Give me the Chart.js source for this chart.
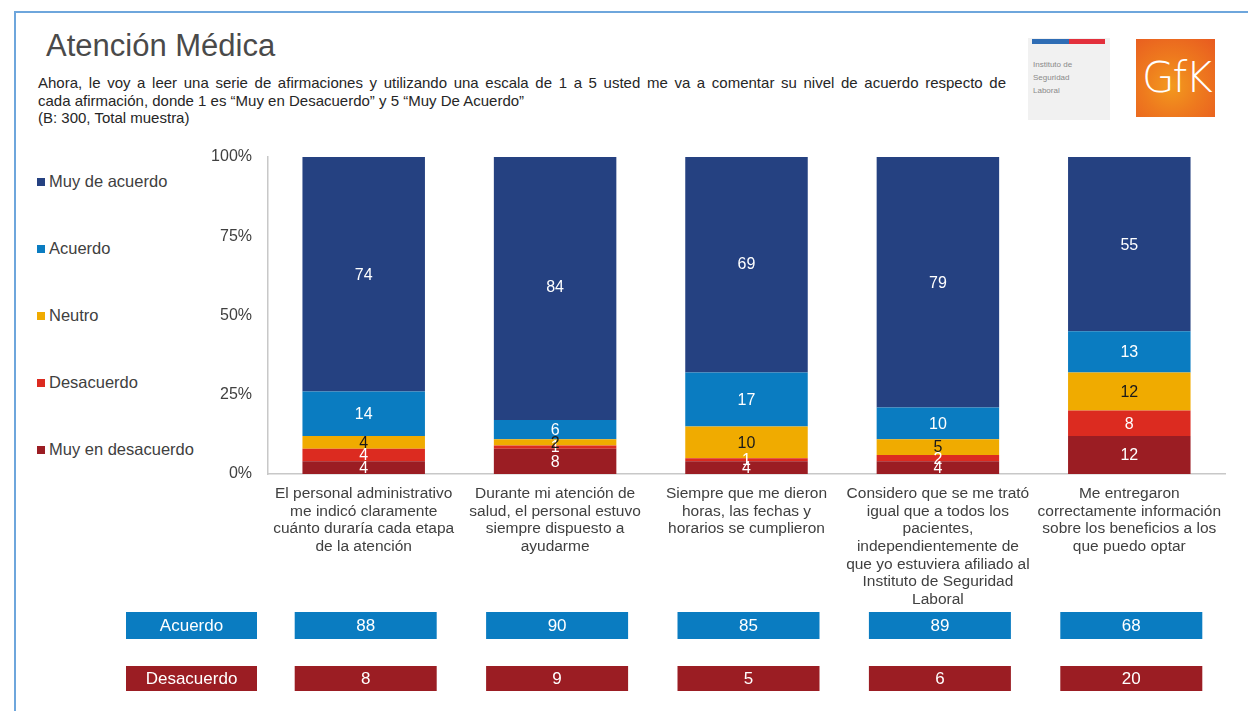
<!DOCTYPE html>
<html>
<head>
<meta charset="utf-8">
<script src="https://cdn.jsdelivr.net/npm/chart.js@4.4.1/dist/chart.umd.min.js"></script>
<style>
  html, body { margin: 0; padding: 0; background: #fff; }
  body { width: 1248px; height: 711px; position: relative; overflow: hidden; font-family: "Liberation Sans", Arial, sans-serif; }
  #frameTop { position: absolute; left: 14px; top: 11px; width: 1234px; height: 2px; background: #6ea6dc; }
  #frameLeft { position: absolute; left: 14px; top: 11px; width: 2px; height: 700px; background: #6ea6dc; }
  #title { position: absolute; left: 46px; top: 28px; font-size: 31px; color: #4a4a4a; }
  #sub { position: absolute; left: 38px; top: 74px; width: 968px; font-size: 15px; line-height: 17.5px; color: #262626; }
  #sub .j { text-align: justify; text-align-last: justify; white-space: nowrap; }
  #isl { position: absolute; left: 1028px; top: 38px; width: 82px; height: 82px; background: #f1f1f1; }
  #isl .b { position: absolute; left: 4px; top: 1px; width: 37px; height: 5px; background: #2f6db5; }
  #isl .r { position: absolute; left: 41px; top: 1px; width: 36px; height: 5px; background: #e3303c; }
  #isl .t { position: absolute; left: 5px; top: 20px; font-size: 8px; line-height: 13px; color: #8a8a8a; }
  #gfk { position: absolute; left: 1136px; top: 39px; width: 79px; height: 78px;
         background: radial-gradient(circle at 45% 60%, #f39a1e 0%, #ee7a1e 45%, #e85a20 100%); }
  #gfk span { position: absolute; left: 6px; top: 14px; font-size: 42px; color: #fff; font-family: "DejaVu Sans", sans-serif; font-weight: 300; letter-spacing: -2px; }
  #legend { position: absolute; left: 37px; top: 0; }
  .li { position: absolute; left: 0; white-space: nowrap; font-size: 16.5px; color: #404040; height: 20px; line-height: 20px; }
  .li i { display: inline-block; width: 8px; height: 8px; margin-right: 4px; vertical-align: 1px; }
  #c { position: absolute; left: 0; top: 0; }
</style>
</head>
<body>
<div id="frameTop"></div>
<div id="frameLeft"></div>
<div id="title">Atención Médica</div>
<div id="sub">
  <div class="j">Ahora, le voy a leer una serie de afirmaciones y utilizando una escala de 1 a 5 usted me va a comentar su nivel de acuerdo respecto de</div>
  <div>cada afirmación, donde 1 es “Muy en Desacuerdo” y 5 “Muy De Acuerdo”</div>
  <div>(B: 300, Total muestra)</div>
</div>
<div id="isl"><div class="b"></div><div class="r"></div><div class="t">Instituto de<br>Seguridad<br>Laboral</div></div>
<div id="gfk"><span>GfK</span></div>
<div id="legend"></div>
<canvas id="c" width="1248" height="711"></canvas>
<script>
// ---- data ----
const categories = [
  ["El personal administrativo", "me indicó claramente", "cuánto duraría cada etapa", "de la atención"],
  ["Durante mi atención de", "salud, el personal estuvo", "siempre dispuesto a", "ayudarme"],
  ["Siempre que me dieron", "horas, las fechas y", "horarios se cumplieron"],
  ["Considero que se me trató", "igual que a todos los", "pacientes,", "independientemente de", "que yo estuviera afiliado al", "Instituto de Seguridad", "Laboral"],
  ["Me entregaron", "correctamente información", "sobre los beneficios a los", "que puedo optar"]
];
const muyEnDesacuerdo = [4, 8, 4, 4, 12];
const desacuerdo      = [4, 1, 1, 2, 8];
const neutro          = [4, 2, 10, 5, 12];
const acuerdo         = [14, 6, 17, 10, 13];
const muyDeAcuerdo    = [74, 84, 69, 79, 55];
const totalAcuerdo    = [88, 90, 85, 89, 68];
const totalDesacuerdo = [8, 9, 5, 6, 20];
const yTicks = [0, 25, 50, 75, 100];
const seriesNames = ["Muy en desacuerdo", "Desacuerdo", "Neutro", "Acuerdo", "Muy de acuerdo"];
const summaryNames = ["Acuerdo", "Desacuerdo"];

const colors = ["#9b1d23", "#dc2b20", "#f0ab00", "#0a7cc1", "#254181"];
const labelColors = ["#ffffff", "#ffffff", "#1a1a1a", "#ffffff", "#ffffff"];
const seriesData = [muyEnDesacuerdo, desacuerdo, neutro, acuerdo, muyDeAcuerdo];

// HTML legend (top = last series)
const legendY = [181, 248, 315, 382, 449];
const lg = document.getElementById('legend');
for (let k = 0; k < 5; k++) {
  const idx = 4 - k;
  const d = document.createElement('div');
  d.className = 'li';
  d.style.top = (legendY[k] - 10) + 'px';
  d.innerHTML = '<i style="background:' + colors[idx] + '"></i>' + seriesNames[idx];
  lg.appendChild(d);
}

const FONT = '"Liberation Sans", Arial, sans-serif';

const valueLabels = {
  id: 'valueLabels',
  afterDatasetsDraw(chart) {
    const ctx = chart.ctx;
    ctx.save();
    ctx.font = '16px ' + FONT;
    ctx.textAlign = 'center';
    ctx.textBaseline = 'middle';
    chart.data.datasets.forEach((ds, di) => {
      const meta = chart.getDatasetMeta(di);
      meta.data.forEach((bar, i) => {
        const p = bar.getProps(['x', 'y', 'base'], true);
        ctx.fillStyle = labelColors[di];
        ctx.fillText(String(ds.data[i]), p.x, (p.y + p.base) / 2 + 1);
      });
    });
    ctx.restore();
  }
};

const summaryBoxes = {
  id: 'summaryBoxes',
  afterDraw(chart) {
    const ctx = chart.ctx;
    const xs = chart.scales.x;
    const rows = [
      { top: 612, h: 27, color: "#0a7cc1", vals: totalAcuerdo, name: summaryNames[0] },
      { top: 666, h: 25, color: "#9b1d23", vals: totalDesacuerdo, name: summaryNames[1] }
    ];
    ctx.save();
    ctx.font = '17px ' + FONT;
    ctx.textAlign = 'center';
    ctx.textBaseline = 'middle';
    rows.forEach(r => {
      ctx.fillStyle = r.color;
      ctx.fillRect(126, r.top, 131, r.h);
      ctx.fillStyle = '#ffffff';
      ctx.fillText(r.name, 126 + 65.5, r.top + r.h / 2 + 1);
      r.vals.forEach((v, i) => {
        const cx = xs.getPixelForValue(i) + 2;
        ctx.fillStyle = r.color;
        ctx.fillRect(cx - 71, r.top, 142, r.h);
        ctx.fillStyle = '#ffffff';
        ctx.fillText(String(v), cx, r.top + r.h / 2 + 1);
      });
    });
    ctx.restore();
  }
};

new Chart(document.getElementById('c'), {
  type: 'bar',
  data: {
    labels: categories,
    datasets: seriesData.map((d, i) => ({
      label: seriesNames[i],
      data: d,
      backgroundColor: colors[i],
      borderWidth: 0,
      barPercentage: 0.64,
      categoryPercentage: 1.0
    }))
  },
  options: {
    responsive: false,
    animation: false,
    devicePixelRatio: 1,
    layout: { padding: { left: 150, top: 157, right: 23, bottom: 0 } },
    plugins: { legend: { display: false }, tooltip: { enabled: false } },
    scales: {
      x: {
        stacked: true,
        grid: { display: false, drawTicks: false },
        border: { display: true, color: '#c8c8c8', width: 1.5 },
        ticks: {
          padding: 11,
          maxRotation: 0,
          autoSkip: false,
          color: '#404040',
          font: { size: 15.5, family: FONT, lineHeight: 1.14 }
        },
        afterFit: s => { s.height = 711 - 474; }
      },
      y: {
        stacked: true,
        min: 0, max: 100,
        afterBuildTicks: s => { s.ticks = yTicks.map(v => ({ value: v })); },
        grid: { display: false, drawTicks: false },
        border: { display: true, color: '#c8c8c8', width: 1.5 },
        ticks: {
          padding: 16,
          color: '#404040',
          font: { size: 16, family: FONT },
          callback: v => v + '%'
        },
        afterFit: s => { s.width = 268 - 150; }
      }
    }
  },
  plugins: [valueLabels, summaryBoxes]
});
</script>
</body>
</html>
